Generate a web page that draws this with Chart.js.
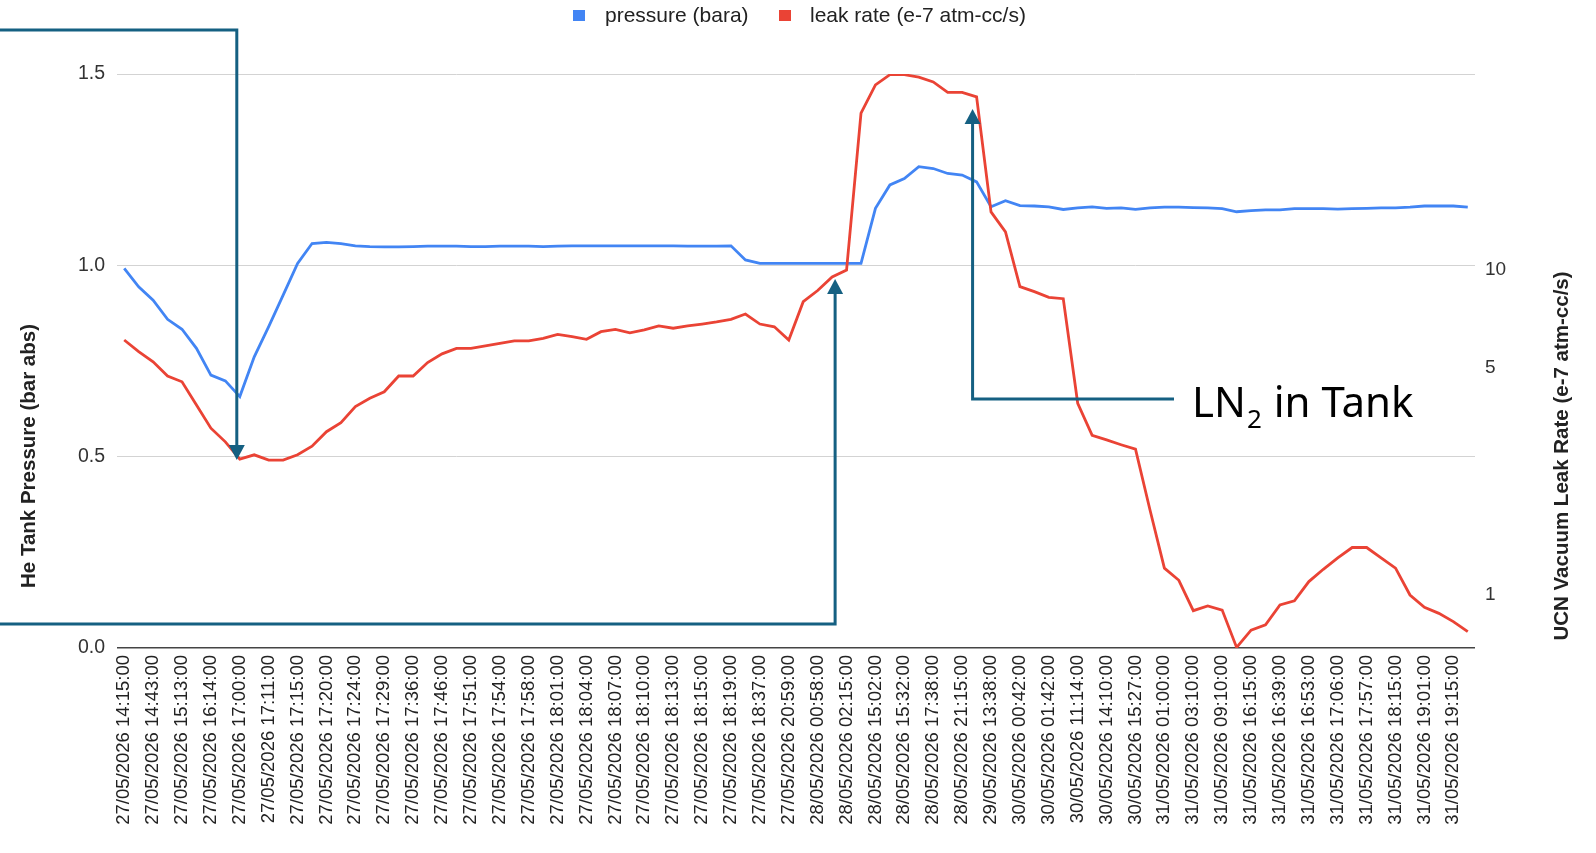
<!DOCTYPE html>
<html>
<head>
<meta charset="utf-8">
<script src="https://cdn.jsdelivr.net/npm/chart.js@4.4.1/dist/chart.umd.min.js"></script>
<style>
  html, body { margin: 0; padding: 0; background: #fff; }
  #wrap { position: relative; width: 1596px; height: 853px; }
</style>
</head>
<body>
<div id="wrap"><canvas id="leakChart"></canvas></div>
<script>
// timestamps shown on the axis (every second sample is labelled)
const tickLabels = [
  '27/05/2026 14:15:00', '27/05/2026 14:43:00', '27/05/2026 15:13:00', '27/05/2026 16:14:00',
  '27/05/2026 17:00:00', '27/05/2026 17:11:00', '27/05/2026 17:15:00', '27/05/2026 17:20:00',
  '27/05/2026 17:24:00', '27/05/2026 17:29:00', '27/05/2026 17:36:00', '27/05/2026 17:46:00',
  '27/05/2026 17:51:00', '27/05/2026 17:54:00', '27/05/2026 17:58:00', '27/05/2026 18:01:00',
  '27/05/2026 18:04:00', '27/05/2026 18:07:00', '27/05/2026 18:10:00', '27/05/2026 18:13:00',
  '27/05/2026 18:15:00', '27/05/2026 18:19:00', '27/05/2026 18:37:00', '27/05/2026 20:59:00',
  '28/05/2026 00:58:00', '28/05/2026 02:15:00', '28/05/2026 15:02:00', '28/05/2026 15:32:00',
  '28/05/2026 17:38:00', '28/05/2026 21:15:00', '29/05/2026 13:38:00', '30/05/2026 00:42:00',
  '30/05/2026 01:42:00', '30/05/2026 11:14:00', '30/05/2026 14:10:00', '30/05/2026 15:27:00',
  '31/05/2026 01:00:00', '31/05/2026 03:10:00', '31/05/2026 09:10:00', '31/05/2026 16:15:00',
  '31/05/2026 16:39:00', '31/05/2026 16:53:00', '31/05/2026 17:06:00', '31/05/2026 17:57:00',
  '31/05/2026 18:15:00', '31/05/2026 19:01:00', '31/05/2026 19:15:00'
];

// He tank pressure (bara)
const pressure = [
  0.992, 0.944, 0.909, 0.859, 0.833, 0.783, 0.713, 0.698, 0.657, 0.761,
  0.840, 0.922, 1.005, 1.057, 1.060, 1.057, 1.051, 1.049, 1.048, 1.048,
  1.049, 1.050, 1.050, 1.050, 1.049, 1.049, 1.050, 1.050, 1.050, 1.049,
  1.050, 1.051, 1.051, 1.051, 1.051, 1.051, 1.051, 1.051, 1.051, 1.050,
  1.050, 1.050, 1.051, 1.014, 1.005, 1.005, 1.005, 1.005, 1.005, 1.005,
  1.005, 1.005, 1.149, 1.210, 1.227, 1.258, 1.253, 1.240, 1.236, 1.218,
  1.153, 1.169, 1.156, 1.155, 1.153, 1.146, 1.150, 1.153, 1.149, 1.150,
  1.146, 1.150, 1.152, 1.152, 1.151, 1.150, 1.148, 1.140, 1.143, 1.145,
  1.145, 1.148, 1.148, 1.148, 1.147, 1.148, 1.149, 1.150, 1.150, 1.152,
  1.155, 1.155, 1.155, 1.152
];

// UCN vacuum leak rate (e-7 atm-cc/s), log axis
const leakRate = [
  6.09, 5.61, 5.22, 4.72, 4.53, 3.84, 3.26, 2.96, 2.62, 2.70,
  2.60, 2.60, 2.70, 2.87, 3.18, 3.39, 3.80, 4.03, 4.22, 4.72,
  4.72, 5.19, 5.52, 5.74, 5.74, 5.84, 5.95, 6.05, 6.05, 6.16,
  6.34, 6.24, 6.12, 6.46, 6.57, 6.41, 6.54, 6.73, 6.62, 6.73,
  6.82, 6.92, 7.05, 7.32, 6.82, 6.69, 6.09, 7.99, 8.65, 9.52,
  10.0, 30.4, 37.1, 39.9, 39.9, 39.2, 37.9, 35.2, 35.2, 34.1,
  15.1, 13.1, 8.89, 8.58, 8.24, 8.16, 3.89, 3.10, 3.00, 2.90,
  2.81, 1.83, 1.21, 1.11, 0.895, 0.925, 0.899, 0.69, 0.780, 0.809,
  0.932, 0.960, 1.10, 1.20, 1.30, 1.40, 1.40, 1.30, 1.21, 1.00,
  0.917, 0.878, 0.828, 0.771
];

const rightTicks = [1, 5, 10];

// one category per sample, only the even ones carry a label
const categories = pressure.map((_, i) => (i % 2 === 0 ? tickLabels[i / 2] : ''));

const FONT = "'Liberation Sans', Arial, sans-serif";
const NOTE_COLOR = '#156082';
const BLUE = '#4285F4';
const RED = '#EA4335';

function arrowHead(ctx, x, tipY, dir) {
  const h = 15, w = 8;
  ctx.beginPath();
  ctx.moveTo(x, tipY);
  ctx.lineTo(x - w, tipY - dir * h);
  ctx.lineTo(x + w, tipY - dir * h);
  ctx.closePath();
  ctx.fill();
}

// legend, axis titles and the hand-drawn arrows
const overlayPlugin = {
  id: 'overlay',
  afterDraw(chart) {
    const ctx = chart.ctx;
    const xs = chart.scales.x;
    const yR = chart.scales.y1;
    const px = i => xs.getPixelForValue(i);
    const py = i => yR.getPixelForValue(leakRate[i]);

    ctx.save();

    // legend
    ctx.font = '21px ' + FONT;
    ctx.textBaseline = 'middle';
    ctx.textAlign = 'left';
    ctx.fillStyle = BLUE;
    ctx.fillRect(573, 10, 12, 11);
    ctx.fillStyle = '#222';
    ctx.fillText('pressure (bara)', 605, 16);
    ctx.fillStyle = RED;
    ctx.fillRect(779, 10, 12, 11);
    ctx.fillStyle = '#222';
    ctx.fillText('leak rate (e-7 atm-cc/s)', 810, 16);

    // axis titles
    ctx.font = 'bold 20.5px ' + FONT;
    ctx.textAlign = 'center';
    ctx.save();
    ctx.translate(29, 456);
    ctx.rotate(-Math.PI / 2);
    ctx.fillText('He Tank Pressure (bar abs)', 0, 0);
    ctx.restore();
    ctx.save();
    ctx.translate(1562, 456);
    ctx.rotate(-Math.PI / 2);
    ctx.fillText('UCN Vacuum Leak Rate (e-7 atm-cc/s)', 0, 0);
    ctx.restore();

    // arrows
    ctx.strokeStyle = NOTE_COLOR;
    ctx.fillStyle = NOTE_COLOR;
    ctx.lineWidth = 3;
    ctx.lineJoin = 'miter';

    const x1 = px(8) - 3, tip1 = py(8) + 1;
    ctx.beginPath();
    ctx.moveTo(0, 30);
    ctx.lineTo(x1, 30);
    ctx.lineTo(x1, tip1 - 12);
    ctx.stroke();
    arrowHead(ctx, x1, tip1, 1);

    const x2 = px(49) + 3, tip2 = py(49) + 2;
    ctx.beginPath();
    ctx.moveTo(0, 624);
    ctx.lineTo(x2, 624);
    ctx.lineTo(x2, tip2 + 12);
    ctx.stroke();
    arrowHead(ctx, x2, tip2, -1);

    const x3 = px(59) - 4, tip3 = py(59) + 12;
    ctx.beginPath();
    ctx.moveTo(1174, 399);
    ctx.lineTo(x3, 399);
    ctx.lineTo(x3, tip3 + 12);
    ctx.stroke();
    arrowHead(ctx, x3, tip3, -1);

    // note text
    ctx.fillStyle = '#000';
    ctx.textAlign = 'left';
    ctx.textBaseline = 'alphabetic';
    ctx.font = "42px 'Noto Sans', 'Open Sans', sans-serif";
    let tx = 1192;
    ctx.fillText('LN', tx, 417);
    tx += ctx.measureText('LN').width + 1;
    ctx.font = "26px 'Noto Sans', 'Open Sans', sans-serif";
    ctx.fillText('2', tx, 428);
    tx += ctx.measureText('2').width + 1;
    ctx.font = "42px 'Noto Sans', 'Open Sans', sans-serif";
    ctx.fillText(' in Tank', tx, 417);

    ctx.restore();
  }
};

const ctx = document.getElementById('leakChart').getContext('2d');
new Chart(ctx, {
  type: 'line',
  data: {
    labels: categories,
    datasets: [
      {
        label: 'pressure (bara)',
        data: pressure,
        yAxisID: 'y',
        borderColor: BLUE,
        backgroundColor: BLUE,
        order: 1
      },
      {
        label: 'leak rate (e-7 atm-cc/s)',
        data: leakRate,
        yAxisID: 'y1',
        borderColor: RED,
        backgroundColor: RED,
        order: 0
      }
    ]
  },
  options: {
    responsive: true,
    maintainAspectRatio: false,
    animation: false,
    layout: { padding: { top: 74, left: 0, right: 0, bottom: 0 } },
    plugins: {
      legend: { display: false },
      tooltip: { enabled: false }
    },
    elements: {
      point: { radius: 0 },
      line: { tension: 0, borderWidth: 2.8 }
    },
    scales: {
      x: {
        type: 'category',
        offset: true,
        grid: { display: false, drawTicks: false },
        border: { display: false },
        ticks: {
          autoSkip: false,
          maxRotation: 90,
          minRotation: 90,
          padding: 7,
          color: '#222',
          font: { family: FONT, size: 18.5 }
        },
        afterFit: s => { s.height = 205; }
      },
      y: {
        position: 'left',
        min: 0,
        max: 1.5,
        ticks: {
          stepSize: 0.5,
          padding: 12,
          color: '#333',
          font: { family: FONT, size: 19.5 },
          callback: v => Number(v).toFixed(1)
        },
        grid: {
          drawTicks: false,
          color: c => (c.tick && c.tick.value === 0 ? '#444' : '#d3d3d3'),
          lineWidth: c => (c.tick && c.tick.value === 0 ? 1.5 : 1)
        },
        border: { display: false },
        afterFit: s => { s.width = 117; }
      },
      y1: {
        type: 'logarithmic',
        position: 'right',
        min: 0.687,
        max: 40.1,
        grid: { display: false, drawTicks: false },
        border: { display: false },
        afterBuildTicks: s => { s.ticks = rightTicks.map(v => ({ value: v })); },
        ticks: {
          padding: 10,
          color: '#333',
          font: { family: FONT, size: 19 },
          callback: v => String(v)
        },
        afterFit: s => { s.width = 121; }
      }
    }
  },
  plugins: [overlayPlugin]
});
</script>
</body>
</html>
